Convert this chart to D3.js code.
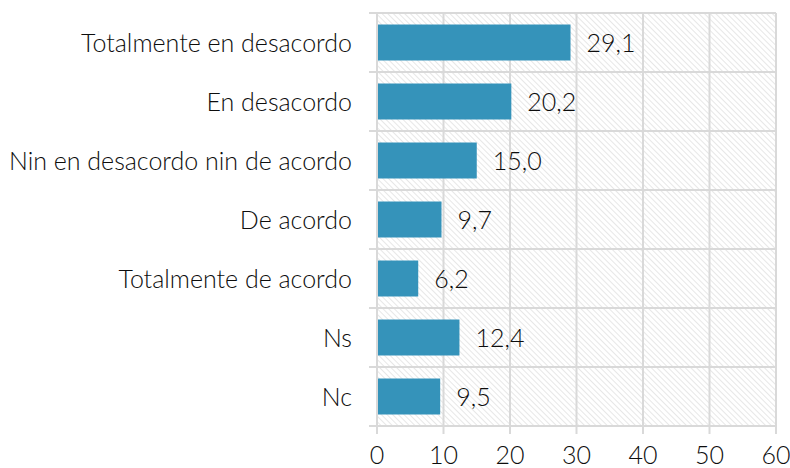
<!DOCTYPE html>
<html>
<head>
<meta charset="utf-8">
<script src="https://cdn.jsdelivr.net/npm/d3@7"></script>
<style>
  body { margin: 0; background: #fff; }
  text { font-family: Lato, "Open Sans", sans-serif; font-weight: 300; fill: #0d0d0d; }
</style>
</head>
<body>
<div id="container"></div>
<script>
// Chart data
const categories = [
  "Totalmente en desacordo",
  "En desacordo",
  "Nin en desacordo nin de acordo",
  "De acordo",
  "Totalmente de acordo",
  "Ns",
  "Nc"
];
const values = [29.1, 20.2, 15.0, 9.7, 6.2, 12.4, 9.5];
const xTicks = [0, 10, 20, 30, 40, 50, 60];

const width = 790;
const height = 468;
const margin = { top: 13, right: 14, bottom: 42, left: 377 };

const svg = d3.select("#container").append("svg")
  .attr("width", width)
  .attr("height", height);

// hatched background pattern (downward diagonal)
const defs = svg.append("defs");
const pat = defs.append("pattern")
  .attr("id", "hatch")
  .attr("patternUnits", "userSpaceOnUse")
  .attr("width", 4)
  .attr("height", 4)
  .attr("patternTransform", "rotate(-45)");
pat.append("line")
  .attr("x1", 0).attr("y1", 0)
  .attr("x2", 0).attr("y2", 4)
  .attr("stroke", "#d6d6d6")
  .attr("stroke-width", 1.2);

const x = d3.scaleLinear()
  .domain([0, 60])
  .range([margin.left, width - margin.right]);

const y = d3.scaleBand()
  .domain(categories)
  .range([margin.top, height - margin.bottom])
  .paddingInner(0.39)
  .paddingOuter(0.195);

const y0 = margin.top, y1 = height - margin.bottom;
const fmt = d => d.toFixed(1).replace(".", ",");

// plot background
svg.append("rect")
  .attr("x", x(0))
  .attr("y", y0)
  .attr("width", x(60) - x(0))
  .attr("height", y1 - y0)
  .attr("fill", "url(#hatch)");

const grid = "#d9d9d9";

// vertical gridlines (with ticks below the axis)
svg.append("g")
  .selectAll("line")
  .data(xTicks)
  .join("line")
  .attr("x1", d => x(d))
  .attr("x2", d => x(d))
  .attr("y1", y0)
  .attr("y2", y1 + 8)
  .attr("stroke", grid)
  .attr("stroke-width", 2);

// horizontal gridlines at category boundaries (with ticks to the left)
const bounds = d3.range(categories.length + 1).map(i => y0 + i * (y1 - y0) / categories.length);
svg.append("g")
  .selectAll("line")
  .data(bounds)
  .join("line")
  .attr("x1", x(0) - 8)
  .attr("x2", x(60))
  .attr("y1", d => d)
  .attr("y2", d => d)
  .attr("stroke", grid)
  .attr("stroke-width", 2);

// bars
svg.append("g")
  .selectAll("rect")
  .data(values)
  .join("rect")
  .attr("x", x(0) + 1)
  .attr("y", (d, i) => y(categories[i]))
  .attr("width", d => x(d) - x(0) - 1)
  .attr("height", y.bandwidth())
  .attr("fill", "#3593ba");

// value labels
svg.append("g")
  .selectAll("text")
  .data(values)
  .join("text")
  .attr("x", d => x(d) + 16)
  .attr("y", (d, i) => y(categories[i]) + y.bandwidth() / 2)
  .attr("dy", "0.36em")
  .attr("font-size", 25)
  .text(d => fmt(d));

// category labels
svg.append("g")
  .selectAll("text")
  .data(categories)
  .join("text")
  .attr("x", x(0) - 25)
  .attr("y", d => y(d) + y.bandwidth() / 2)
  .attr("dy", "0.36em")
  .attr("text-anchor", "end")
  .attr("font-size", 25)
  .text(d => d);

// x tick labels
svg.append("g")
  .selectAll("text")
  .data(xTicks)
  .join("text")
  .attr("x", d => x(d))
  .attr("y", height - 4)
  .attr("text-anchor", "middle")
  .attr("font-size", 25)
  .text(d => d);
</script>
</body>
</html>
